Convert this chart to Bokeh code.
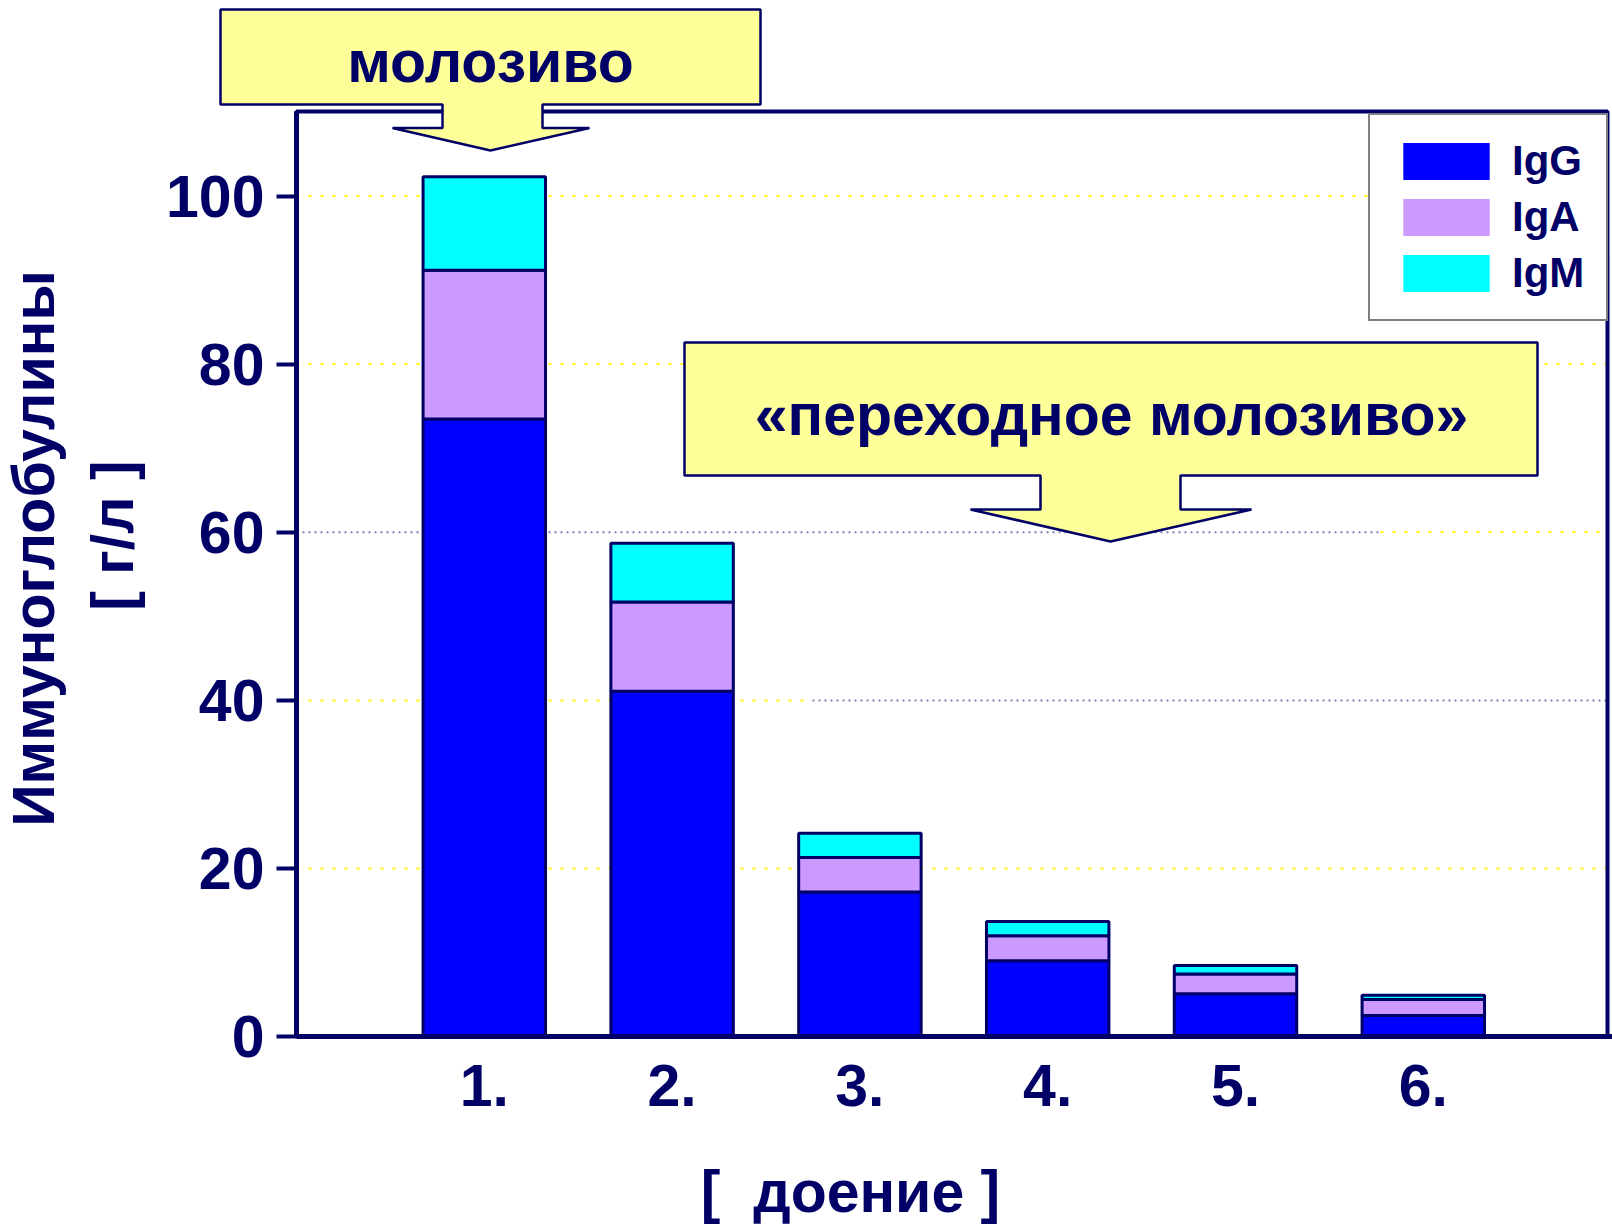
import numpy as np
from bokeh.plotting import figure
from bokeh.models import (ColumnDataSource, Range1d, FixedTicker, Legend, LegendItem,
                          PolyAnnotation, BoxAnnotation, Label)
from bokeh.embed import file_html
from bokeh.resources import INLINE

# ---- data ----
milkings = ["1.", "2.", "3.", "4.", "5.", "6."]
igg = [73.5, 41.1, 17.2, 9.0, 5.1, 2.5]
iga = [17.7, 10.6, 4.1, 3.0, 2.35, 1.9]
igm = [11.1, 7.0, 2.9, 1.7, 1.0, 0.5]
series_names = ["IgG", "IgA", "IgM"]
y_ticks = [0, 20, 40, 60, 80, 100]
y_title = ["Иммуноглобулины", "[ г/л ]"]
x_title = "[\u00a0 доение ]"
callout_1 = "молозиво"
callout_2 = "«переходное молозиво»"

# ---- style / geometry (pixels of the 1612x1232 page) ----
NAVY = "#000066"
COLORS = ["#0000FF", "#CC99FF", "#00FFFF"]
GRID_YELLOW = "#FFFF00"
GRID_DARK = "#7F7FB0"
FONT = "Liberation Sans"
W, H = 1612, 1232
AX_X, AX_Y = 296.0, 1036.0       # pixel position of x=0 and y=0
PX_PER_X, PX_PER_Y = 187.8, 8.403
X0 = -AX_X / PX_PER_X
X1 = X0 + W / PX_PER_X
Y0 = -(H - AX_Y) / PX_PER_Y
Y1 = Y0 + H / PX_PER_Y


def dx(px):
    return X0 + px / PX_PER_X


def dy(py):
    return Y1 - py / PX_PER_Y


FRAME_RIGHT = dx(1607)
FRAME_TOP = dy(111)

xpos = list(range(1, len(milkings) + 1))
source = ColumnDataSource(dict(x=xpos, IgG=igg, IgA=iga, IgM=igm))

p = figure(width=W, height=H, output_backend="svg", toolbar_location=None, title=None,
           x_range=Range1d(X0, X1), y_range=Range1d(Y0, Y1),
           min_border=0, min_border_left=0, min_border_right=0,
           min_border_top=0, min_border_bottom=0)
p.background_fill_color = "white"
p.border_fill_color = "white"
p.outline_line_color = None
p.xgrid.visible = False
p.ygrid.visible = False

# dotted grid lines (between axis and right frame border)
g20, g40, g60, g80, g100 = y_ticks[1:]
x40, x60 = dx(812), dx(1380)
yellow = [(0, FRAME_RIGHT, g20), (0, x40, g40), (x60, FRAME_RIGHT, g60),
          (0, FRAME_RIGHT, g80), (0, FRAME_RIGHT, g100)]
dark = [(x40, FRAME_RIGHT, g40), (0, x60, g60)]
for segs, col, dash, lw in ((yellow, GRID_YELLOW, "3 9", 2), (dark, GRID_DARK, "2 4", 2)):
    p.segment(x0=[s[0] for s in segs], x1=[s[1] for s in segs],
              y0=[s[2] for s in segs], y1=[s[2] for s in segs],
              line_color=col, line_width=lw, line_dash=dash, level="underlay")

# frame (top / right border)
p.add_layout(BoxAnnotation(left=0, right=FRAME_RIGHT, bottom=0, top=FRAME_TOP,
                           fill_alpha=0, line_color=NAVY, line_width=4, line_alpha=1.0))

# bars
p.vbar_stack(series_names, x="x", width=0.652, source=source,
             fill_color=COLORS, line_color=NAVY, line_width=3)

# legend swatches (no outline)
items = []
for name, c in zip(series_names, COLORS):
    r = p.vbar(x=[xpos[0]], top=[0], bottom=[0], width=0.01, fill_color=c,
               line_color=None)
    items.append(LegendItem(label=name, renderers=[r]))
legend = Legend(items=items, location=(1368, 911), margin=0,
                padding=22, spacing=8, glyph_width=108, glyph_height=46,
                label_standoff=12, label_text_font=FONT, label_text_font_style="bold",
                label_text_font_size="42px", label_text_color=NAVY,
                border_line_color="black", border_line_width=2,
                background_fill_color="white", background_fill_alpha=1.0)
p.add_layout(legend, "center")

# axes drawn inside the frame at the data origin
for ax in (p.xaxis[0], p.yaxis[0]):
    ax.fixed_location = 0
    ax.axis_line_color = NAVY
    ax.axis_line_width = 5
    ax.major_tick_line_color = NAVY
    ax.major_tick_line_width = 4
    ax.minor_tick_line_color = None
    ax.major_label_text_font = FONT
    ax.major_label_text_font_style = "bold"
    ax.major_label_text_font_size = "59px"
    ax.major_label_text_color = NAVY

p.yaxis.ticker = FixedTicker(ticks=y_ticks)
p.yaxis.bounds = (0, FRAME_TOP)
p.yaxis.major_tick_out = 20
p.yaxis.major_tick_in = 0
p.yaxis.major_label_standoff = 12

p.xaxis.ticker = FixedTicker(ticks=xpos)
p.xaxis.bounds = (0, X1)
p.xaxis.major_label_overrides = {xv: lab for xv, lab in zip(xpos, milkings)}
p.xaxis.major_tick_out = 0
p.xaxis.major_tick_in = 0
p.xaxis.major_label_standoff = 28

TXT = dict(text_font=FONT, text_font_style="bold", text_font_size="59px",
           text_color=NAVY, text_align="center", text_baseline="middle")

# axis titles
p.add_layout(Label(x=dx(33), y=dy(548), text=y_title[0], angle=np.pi / 2, **TXT))
p.add_layout(Label(x=dx(112), y=dy(535), text=y_title[1], angle=np.pi / 2, **TXT))
p.add_layout(Label(x=dx(850), y=dy(1191), text=x_title, **TXT))


def arrow_callout(L, R, T, B, SL, SR, HY, HL, HR, TX, TY):
    pts = [(L, T), (R, T), (R, B), (SR, B), (SR, HY), (HR, HY), (TX, TY),
           (HL, HY), (SL, HY), (SL, B), (L, B)]
    return [dx(a) for a, _ in pts], [dy(b) for _, b in pts]


xs1, ys1 = arrow_callout(220, 760, 9, 104, 442, 542, 127.5, 392, 589, 490, 150)
xs2, ys2 = arrow_callout(684, 1537, 342, 475, 1040, 1180, 509, 970, 1251, 1110, 541)
for xs, ys in ((xs1, ys1), (xs2, ys2)):
    p.add_layout(PolyAnnotation(xs=xs, ys=ys, fill_color="#FFFF99", fill_alpha=1.0,
                                line_color=NAVY, line_width=2.5, line_alpha=1.0,
                                level="overlay"))

p.add_layout(Label(x=dx(490), y=dy(61), text=callout_1, level="overlay", **TXT))
p.add_layout(Label(x=dx(1111), y=dy(414), text=callout_2, level="overlay", **TXT))

open("out.html", "w").write(file_html(p, INLINE))
